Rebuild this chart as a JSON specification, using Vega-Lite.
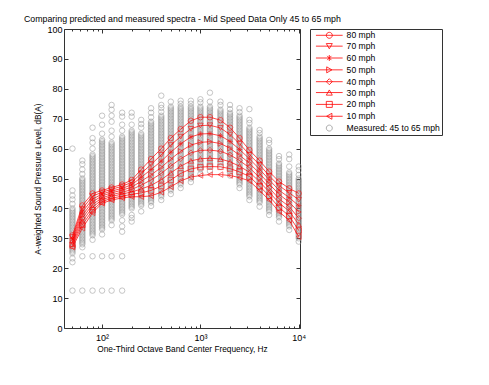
{
"$schema":"https://vega.github.io/schema/vega-lite/v6.json",
"width":236,"height":299,
"autosize":{"type":"none"},
"padding":{"left":64,"top":29,"right":189,"bottom":57},
"background":"white",
"title":{"text":"Comparing predicted and measured spectra - Mid Speed Data Only 45 to 65 mph","anchor":"start","frame":"group","dx":-40,"dy":13,"offset":7,"fontSize":8.8,"fontWeight":"normal","font":"Liberation Sans","color":"black","baseline":"alphabetic"},
"config":{"font":"Liberation Sans","view":{"stroke":"#333","strokeWidth":1},
"axis":{"grid":false,"domain":false,"tickColor":"#333","labelColor":"black","labelFontSize":9,"titleFontSize":8.3,"titleFontWeight":"normal","titleColor":"black","labelFont":"Liberation Sans","titleFont":"Liberation Sans"}},
"datasets":{
"measured":[
{"f":50,"db":12.5},{"f":50,"db":22},{"f":50,"db":23.3},{"f":50,"db":25},{"f":50,"db":25.5},{"f":50,"db":26},{"f":50,"db":26.5},{"f":50,"db":27},{"f":50,"db":27.5},{"f":50,"db":28},{"f":50,"db":28.5},{"f":50,"db":29},{"f":50,"db":29.5},{"f":50,"db":30},{"f":50,"db":30.5},{"f":50,"db":31},{"f":50,"db":31.5},{"f":50,"db":32},{"f":50,"db":32.5},{"f":50,"db":33},{"f":50,"db":33.5},{"f":50,"db":34},{"f":50,"db":34.5},{"f":50,"db":35},{"f":50,"db":35.5},{"f":50,"db":36},{"f":50,"db":36.5},{"f":50,"db":37},{"f":50,"db":37.5},{"f":50,"db":38},{"f":50,"db":38.5},{"f":50,"db":39},{"f":50,"db":39.5},{"f":50,"db":40},{"f":50,"db":41.5},{"f":50,"db":43},{"f":50,"db":44.3},{"f":50,"db":46},{"f":50,"db":60},
{"f":63,"db":12.5},{"f":63,"db":24},{"f":63,"db":27},{"f":63,"db":28},{"f":63,"db":28.5},{"f":63,"db":29},{"f":63,"db":29.5},{"f":63,"db":30},{"f":63,"db":30.5},{"f":63,"db":31},{"f":63,"db":31.5},{"f":63,"db":32},{"f":63,"db":32.5},{"f":63,"db":33},{"f":63,"db":33.5},{"f":63,"db":34},{"f":63,"db":34.5},{"f":63,"db":35},{"f":63,"db":35.5},{"f":63,"db":36},{"f":63,"db":36.5},{"f":63,"db":37},{"f":63,"db":37.5},{"f":63,"db":38},{"f":63,"db":38.5},{"f":63,"db":39},{"f":63,"db":39.5},{"f":63,"db":40},{"f":63,"db":40.5},{"f":63,"db":41},{"f":63,"db":41.5},{"f":63,"db":42},{"f":63,"db":42.5},{"f":63,"db":43},{"f":63,"db":43.5},{"f":63,"db":44},{"f":63,"db":44.5},{"f":63,"db":45},{"f":63,"db":45.5},{"f":63,"db":46},{"f":63,"db":46.5},{"f":63,"db":47},{"f":63,"db":47.5},{"f":63,"db":48},{"f":63,"db":48.5},{"f":63,"db":49},{"f":63,"db":49.5},{"f":63,"db":50},{"f":63,"db":51.5},{"f":63,"db":53},{"f":63,"db":54.8},{"f":63,"db":56},
{"f":80,"db":12.5},{"f":80,"db":24},{"f":80,"db":29.5},{"f":80,"db":31},{"f":80,"db":31.5},{"f":80,"db":32},{"f":80,"db":32.5},{"f":80,"db":33},{"f":80,"db":33.5},{"f":80,"db":34},{"f":80,"db":34.5},{"f":80,"db":35},{"f":80,"db":35.5},{"f":80,"db":36},{"f":80,"db":36.5},{"f":80,"db":37},{"f":80,"db":37.5},{"f":80,"db":38},{"f":80,"db":38.5},{"f":80,"db":39},{"f":80,"db":39.5},{"f":80,"db":40},{"f":80,"db":40.5},{"f":80,"db":41},{"f":80,"db":41.5},{"f":80,"db":42},{"f":80,"db":42.5},{"f":80,"db":43},{"f":80,"db":43.5},{"f":80,"db":44},{"f":80,"db":44.5},{"f":80,"db":45},{"f":80,"db":45.5},{"f":80,"db":46},{"f":80,"db":46.5},{"f":80,"db":47},{"f":80,"db":47.5},{"f":80,"db":48},{"f":80,"db":48.5},{"f":80,"db":49},{"f":80,"db":49.5},{"f":80,"db":50},{"f":80,"db":50.5},{"f":80,"db":51},{"f":80,"db":51.5},{"f":80,"db":52},{"f":80,"db":52.5},{"f":80,"db":53},{"f":80,"db":53.5},{"f":80,"db":54},{"f":80,"db":54.5},{"f":80,"db":55},{"f":80,"db":55.5},{"f":80,"db":56},{"f":80,"db":56.5},{"f":80,"db":57},{"f":80,"db":57.5},{"f":80,"db":58},{"f":80,"db":60},{"f":80,"db":62},{"f":80,"db":63.5},{"f":80,"db":67},
{"f":100,"db":12.5},{"f":100,"db":24},{"f":100,"db":31.3},{"f":100,"db":33},{"f":100,"db":33.5},{"f":100,"db":34},{"f":100,"db":34.5},{"f":100,"db":35},{"f":100,"db":35.5},{"f":100,"db":36},{"f":100,"db":36.5},{"f":100,"db":37},{"f":100,"db":37.5},{"f":100,"db":38},{"f":100,"db":38.5},{"f":100,"db":39},{"f":100,"db":39.5},{"f":100,"db":40},{"f":100,"db":40.5},{"f":100,"db":41},{"f":100,"db":41.5},{"f":100,"db":42},{"f":100,"db":42.5},{"f":100,"db":43},{"f":100,"db":43.5},{"f":100,"db":44},{"f":100,"db":44.5},{"f":100,"db":45},{"f":100,"db":45.5},{"f":100,"db":46},{"f":100,"db":46.5},{"f":100,"db":47},{"f":100,"db":47.5},{"f":100,"db":48},{"f":100,"db":48.5},{"f":100,"db":49},{"f":100,"db":49.5},{"f":100,"db":50},{"f":100,"db":50.5},{"f":100,"db":51},{"f":100,"db":51.5},{"f":100,"db":52},{"f":100,"db":52.5},{"f":100,"db":53},{"f":100,"db":53.5},{"f":100,"db":54},{"f":100,"db":54.5},{"f":100,"db":55},{"f":100,"db":55.5},{"f":100,"db":56},{"f":100,"db":56.5},{"f":100,"db":57},{"f":100,"db":57.5},{"f":100,"db":58},{"f":100,"db":58.5},{"f":100,"db":59},{"f":100,"db":59.5},{"f":100,"db":60},{"f":100,"db":60.5},{"f":100,"db":61},{"f":100,"db":61.5},{"f":100,"db":62},{"f":100,"db":62.5},{"f":100,"db":63},{"f":100,"db":65},{"f":100,"db":68},{"f":100,"db":71},
{"f":125,"db":12.5},{"f":125,"db":24},{"f":125,"db":34.4},{"f":125,"db":36},{"f":125,"db":36.5},{"f":125,"db":37},{"f":125,"db":37.5},{"f":125,"db":38},{"f":125,"db":38.5},{"f":125,"db":39},{"f":125,"db":39.5},{"f":125,"db":40},{"f":125,"db":40.5},{"f":125,"db":41},{"f":125,"db":41.5},{"f":125,"db":42},{"f":125,"db":42.5},{"f":125,"db":43},{"f":125,"db":43.5},{"f":125,"db":44},{"f":125,"db":44.5},{"f":125,"db":45},{"f":125,"db":45.5},{"f":125,"db":46},{"f":125,"db":46.5},{"f":125,"db":47},{"f":125,"db":47.5},{"f":125,"db":48},{"f":125,"db":48.5},{"f":125,"db":49},{"f":125,"db":49.5},{"f":125,"db":50},{"f":125,"db":50.5},{"f":125,"db":51},{"f":125,"db":51.5},{"f":125,"db":52},{"f":125,"db":52.5},{"f":125,"db":53},{"f":125,"db":53.5},{"f":125,"db":54},{"f":125,"db":54.5},{"f":125,"db":55},{"f":125,"db":55.5},{"f":125,"db":56},{"f":125,"db":56.5},{"f":125,"db":57},{"f":125,"db":57.5},{"f":125,"db":58},{"f":125,"db":58.5},{"f":125,"db":59},{"f":125,"db":59.5},{"f":125,"db":60},{"f":125,"db":60.5},{"f":125,"db":61},{"f":125,"db":61.5},{"f":125,"db":62},{"f":125,"db":64},{"f":125,"db":66},{"f":125,"db":69},{"f":125,"db":71},{"f":125,"db":73},{"f":125,"db":74.6},
{"f":160,"db":12.5},{"f":160,"db":24},{"f":160,"db":32.2},{"f":160,"db":34},{"f":160,"db":36},{"f":160,"db":38},{"f":160,"db":38.5},{"f":160,"db":39},{"f":160,"db":39.5},{"f":160,"db":40},{"f":160,"db":40.5},{"f":160,"db":41},{"f":160,"db":41.5},{"f":160,"db":42},{"f":160,"db":42.5},{"f":160,"db":43},{"f":160,"db":43.5},{"f":160,"db":44},{"f":160,"db":44.5},{"f":160,"db":45},{"f":160,"db":45.5},{"f":160,"db":46},{"f":160,"db":46.5},{"f":160,"db":47},{"f":160,"db":47.5},{"f":160,"db":48},{"f":160,"db":48.5},{"f":160,"db":49},{"f":160,"db":49.5},{"f":160,"db":50},{"f":160,"db":50.5},{"f":160,"db":51},{"f":160,"db":51.5},{"f":160,"db":52},{"f":160,"db":52.5},{"f":160,"db":53},{"f":160,"db":53.5},{"f":160,"db":54},{"f":160,"db":54.5},{"f":160,"db":55},{"f":160,"db":55.5},{"f":160,"db":56},{"f":160,"db":56.5},{"f":160,"db":57},{"f":160,"db":57.5},{"f":160,"db":58},{"f":160,"db":58.5},{"f":160,"db":59},{"f":160,"db":59.5},{"f":160,"db":60},{"f":160,"db":60.5},{"f":160,"db":61},{"f":160,"db":61.5},{"f":160,"db":62},{"f":160,"db":62.5},{"f":160,"db":63},{"f":160,"db":63.5},{"f":160,"db":64},{"f":160,"db":66},{"f":160,"db":68},{"f":160,"db":70.7},{"f":160,"db":72},
{"f":200,"db":35.6},{"f":200,"db":36.8},{"f":200,"db":37.8},{"f":200,"db":40},{"f":200,"db":40.5},{"f":200,"db":41},{"f":200,"db":41.5},{"f":200,"db":42},{"f":200,"db":42.5},{"f":200,"db":43},{"f":200,"db":43.5},{"f":200,"db":44},{"f":200,"db":44.5},{"f":200,"db":45},{"f":200,"db":45.5},{"f":200,"db":46},{"f":200,"db":46.5},{"f":200,"db":47},{"f":200,"db":47.5},{"f":200,"db":48},{"f":200,"db":48.5},{"f":200,"db":49},{"f":200,"db":49.5},{"f":200,"db":50},{"f":200,"db":50.5},{"f":200,"db":51},{"f":200,"db":51.5},{"f":200,"db":52},{"f":200,"db":52.5},{"f":200,"db":53},{"f":200,"db":53.5},{"f":200,"db":54},{"f":200,"db":54.5},{"f":200,"db":55},{"f":200,"db":55.5},{"f":200,"db":56},{"f":200,"db":56.5},{"f":200,"db":57},{"f":200,"db":57.5},{"f":200,"db":58},{"f":200,"db":58.5},{"f":200,"db":59},{"f":200,"db":59.5},{"f":200,"db":60},{"f":200,"db":60.5},{"f":200,"db":61},{"f":200,"db":61.5},{"f":200,"db":62},{"f":200,"db":62.5},{"f":200,"db":63},{"f":200,"db":63.5},{"f":200,"db":64},{"f":200,"db":64.5},{"f":200,"db":65},{"f":200,"db":65.5},{"f":200,"db":66},{"f":200,"db":68},{"f":200,"db":70.7},{"f":200,"db":72},
{"f":250,"db":39},{"f":250,"db":41},{"f":250,"db":41.5},{"f":250,"db":42},{"f":250,"db":42.5},{"f":250,"db":43},{"f":250,"db":43.5},{"f":250,"db":44},{"f":250,"db":44.5},{"f":250,"db":45},{"f":250,"db":45.5},{"f":250,"db":46},{"f":250,"db":46.5},{"f":250,"db":47},{"f":250,"db":47.5},{"f":250,"db":48},{"f":250,"db":48.5},{"f":250,"db":49},{"f":250,"db":49.5},{"f":250,"db":50},{"f":250,"db":50.5},{"f":250,"db":51},{"f":250,"db":51.5},{"f":250,"db":52},{"f":250,"db":52.5},{"f":250,"db":53},{"f":250,"db":53.5},{"f":250,"db":54},{"f":250,"db":54.5},{"f":250,"db":55},{"f":250,"db":55.5},{"f":250,"db":56},{"f":250,"db":56.5},{"f":250,"db":57},{"f":250,"db":57.5},{"f":250,"db":58},{"f":250,"db":58.5},{"f":250,"db":59},{"f":250,"db":59.5},{"f":250,"db":60},{"f":250,"db":60.5},{"f":250,"db":61},{"f":250,"db":61.5},{"f":250,"db":62},{"f":250,"db":62.5},{"f":250,"db":63},{"f":250,"db":63.5},{"f":250,"db":64},{"f":250,"db":64.5},{"f":250,"db":65},{"f":250,"db":67},{"f":250,"db":68.2},{"f":250,"db":69.6},
{"f":315,"db":40.8},{"f":315,"db":42},{"f":315,"db":42.5},{"f":315,"db":43},{"f":315,"db":43.5},{"f":315,"db":44},{"f":315,"db":44.5},{"f":315,"db":45},{"f":315,"db":45.5},{"f":315,"db":46},{"f":315,"db":46.5},{"f":315,"db":47},{"f":315,"db":47.5},{"f":315,"db":48},{"f":315,"db":48.5},{"f":315,"db":49},{"f":315,"db":49.5},{"f":315,"db":50},{"f":315,"db":50.5},{"f":315,"db":51},{"f":315,"db":51.5},{"f":315,"db":52},{"f":315,"db":52.5},{"f":315,"db":53},{"f":315,"db":53.5},{"f":315,"db":54},{"f":315,"db":54.5},{"f":315,"db":55},{"f":315,"db":55.5},{"f":315,"db":56},{"f":315,"db":56.5},{"f":315,"db":57},{"f":315,"db":57.5},{"f":315,"db":58},{"f":315,"db":58.5},{"f":315,"db":59},{"f":315,"db":59.5},{"f":315,"db":60},{"f":315,"db":60.5},{"f":315,"db":61},{"f":315,"db":61.5},{"f":315,"db":62},{"f":315,"db":62.5},{"f":315,"db":63},{"f":315,"db":63.5},{"f":315,"db":64},{"f":315,"db":64.5},{"f":315,"db":65},{"f":315,"db":65.5},{"f":315,"db":66},{"f":315,"db":66.5},{"f":315,"db":67},{"f":315,"db":67.5},{"f":315,"db":68},{"f":315,"db":68.5},{"f":315,"db":69},{"f":315,"db":70.5},{"f":315,"db":72},{"f":315,"db":73.5},
{"f":400,"db":42.8},{"f":400,"db":44},{"f":400,"db":44.5},{"f":400,"db":45},{"f":400,"db":45.5},{"f":400,"db":46},{"f":400,"db":46.5},{"f":400,"db":47},{"f":400,"db":47.5},{"f":400,"db":48},{"f":400,"db":48.5},{"f":400,"db":49},{"f":400,"db":49.5},{"f":400,"db":50},{"f":400,"db":50.5},{"f":400,"db":51},{"f":400,"db":51.5},{"f":400,"db":52},{"f":400,"db":52.5},{"f":400,"db":53},{"f":400,"db":53.5},{"f":400,"db":54},{"f":400,"db":54.5},{"f":400,"db":55},{"f":400,"db":55.5},{"f":400,"db":56},{"f":400,"db":56.5},{"f":400,"db":57},{"f":400,"db":57.5},{"f":400,"db":58},{"f":400,"db":58.5},{"f":400,"db":59},{"f":400,"db":59.5},{"f":400,"db":60},{"f":400,"db":60.5},{"f":400,"db":61},{"f":400,"db":61.5},{"f":400,"db":62},{"f":400,"db":62.5},{"f":400,"db":63},{"f":400,"db":63.5},{"f":400,"db":64},{"f":400,"db":64.5},{"f":400,"db":65},{"f":400,"db":65.5},{"f":400,"db":66},{"f":400,"db":66.5},{"f":400,"db":67},{"f":400,"db":67.5},{"f":400,"db":68},{"f":400,"db":68.5},{"f":400,"db":69},{"f":400,"db":69.5},{"f":400,"db":70},{"f":400,"db":70.5},{"f":400,"db":71},{"f":400,"db":72.3},{"f":400,"db":73.6},{"f":400,"db":74.6},{"f":400,"db":77.7},
{"f":500,"db":44.8},{"f":500,"db":46},{"f":500,"db":46.5},{"f":500,"db":47},{"f":500,"db":47.5},{"f":500,"db":48},{"f":500,"db":48.5},{"f":500,"db":49},{"f":500,"db":49.5},{"f":500,"db":50},{"f":500,"db":50.5},{"f":500,"db":51},{"f":500,"db":51.5},{"f":500,"db":52},{"f":500,"db":52.5},{"f":500,"db":53},{"f":500,"db":53.5},{"f":500,"db":54},{"f":500,"db":54.5},{"f":500,"db":55},{"f":500,"db":55.5},{"f":500,"db":56},{"f":500,"db":56.5},{"f":500,"db":57},{"f":500,"db":57.5},{"f":500,"db":58},{"f":500,"db":58.5},{"f":500,"db":59},{"f":500,"db":59.5},{"f":500,"db":60},{"f":500,"db":60.5},{"f":500,"db":61},{"f":500,"db":61.5},{"f":500,"db":62},{"f":500,"db":62.5},{"f":500,"db":63},{"f":500,"db":63.5},{"f":500,"db":64},{"f":500,"db":64.5},{"f":500,"db":65},{"f":500,"db":65.5},{"f":500,"db":66},{"f":500,"db":66.5},{"f":500,"db":67},{"f":500,"db":67.5},{"f":500,"db":68},{"f":500,"db":68.5},{"f":500,"db":69},{"f":500,"db":69.5},{"f":500,"db":70},{"f":500,"db":70.5},{"f":500,"db":71},{"f":500,"db":71.5},{"f":500,"db":72},{"f":500,"db":72.5},{"f":500,"db":73},{"f":500,"db":73.5},{"f":500,"db":74},{"f":500,"db":75.7},
{"f":630,"db":46.8},{"f":630,"db":48},{"f":630,"db":48.5},{"f":630,"db":49},{"f":630,"db":49.5},{"f":630,"db":50},{"f":630,"db":50.5},{"f":630,"db":51},{"f":630,"db":51.5},{"f":630,"db":52},{"f":630,"db":52.5},{"f":630,"db":53},{"f":630,"db":53.5},{"f":630,"db":54},{"f":630,"db":54.5},{"f":630,"db":55},{"f":630,"db":55.5},{"f":630,"db":56},{"f":630,"db":56.5},{"f":630,"db":57},{"f":630,"db":57.5},{"f":630,"db":58},{"f":630,"db":58.5},{"f":630,"db":59},{"f":630,"db":59.5},{"f":630,"db":60},{"f":630,"db":60.5},{"f":630,"db":61},{"f":630,"db":61.5},{"f":630,"db":62},{"f":630,"db":62.5},{"f":630,"db":63},{"f":630,"db":63.5},{"f":630,"db":64},{"f":630,"db":64.5},{"f":630,"db":65},{"f":630,"db":65.5},{"f":630,"db":66},{"f":630,"db":66.5},{"f":630,"db":67},{"f":630,"db":67.5},{"f":630,"db":68},{"f":630,"db":68.5},{"f":630,"db":69},{"f":630,"db":69.5},{"f":630,"db":70},{"f":630,"db":70.5},{"f":630,"db":71},{"f":630,"db":71.5},{"f":630,"db":72},{"f":630,"db":72.5},{"f":630,"db":73},{"f":630,"db":73.5},{"f":630,"db":74},{"f":630,"db":75},{"f":630,"db":76},
{"f":800,"db":48.8},{"f":800,"db":50},{"f":800,"db":50.5},{"f":800,"db":51},{"f":800,"db":51.5},{"f":800,"db":52},{"f":800,"db":52.5},{"f":800,"db":53},{"f":800,"db":53.5},{"f":800,"db":54},{"f":800,"db":54.5},{"f":800,"db":55},{"f":800,"db":55.5},{"f":800,"db":56},{"f":800,"db":56.5},{"f":800,"db":57},{"f":800,"db":57.5},{"f":800,"db":58},{"f":800,"db":58.5},{"f":800,"db":59},{"f":800,"db":59.5},{"f":800,"db":60},{"f":800,"db":60.5},{"f":800,"db":61},{"f":800,"db":61.5},{"f":800,"db":62},{"f":800,"db":62.5},{"f":800,"db":63},{"f":800,"db":63.5},{"f":800,"db":64},{"f":800,"db":64.5},{"f":800,"db":65},{"f":800,"db":65.5},{"f":800,"db":66},{"f":800,"db":66.5},{"f":800,"db":67},{"f":800,"db":67.5},{"f":800,"db":68},{"f":800,"db":68.5},{"f":800,"db":69},{"f":800,"db":69.5},{"f":800,"db":70},{"f":800,"db":70.5},{"f":800,"db":71},{"f":800,"db":71.5},{"f":800,"db":72},{"f":800,"db":72.5},{"f":800,"db":73},{"f":800,"db":73.5},{"f":800,"db":74},{"f":800,"db":75},{"f":800,"db":76},
{"f":1000,"db":51.5},{"f":1000,"db":53},{"f":1000,"db":53.5},{"f":1000,"db":54},{"f":1000,"db":54.5},{"f":1000,"db":55},{"f":1000,"db":55.5},{"f":1000,"db":56},{"f":1000,"db":56.5},{"f":1000,"db":57},{"f":1000,"db":57.5},{"f":1000,"db":58},{"f":1000,"db":58.5},{"f":1000,"db":59},{"f":1000,"db":59.5},{"f":1000,"db":60},{"f":1000,"db":60.5},{"f":1000,"db":61},{"f":1000,"db":61.5},{"f":1000,"db":62},{"f":1000,"db":62.5},{"f":1000,"db":63},{"f":1000,"db":63.5},{"f":1000,"db":64},{"f":1000,"db":64.5},{"f":1000,"db":65},{"f":1000,"db":65.5},{"f":1000,"db":66},{"f":1000,"db":66.5},{"f":1000,"db":67},{"f":1000,"db":67.5},{"f":1000,"db":68},{"f":1000,"db":68.5},{"f":1000,"db":69},{"f":1000,"db":69.5},{"f":1000,"db":70},{"f":1000,"db":70.5},{"f":1000,"db":71},{"f":1000,"db":71.5},{"f":1000,"db":72},{"f":1000,"db":72.5},{"f":1000,"db":73},{"f":1000,"db":73.5},{"f":1000,"db":74},{"f":1000,"db":75.5},{"f":1000,"db":76.5},
{"f":1250,"db":52.5},{"f":1250,"db":54},{"f":1250,"db":54.5},{"f":1250,"db":55},{"f":1250,"db":55.5},{"f":1250,"db":56},{"f":1250,"db":56.5},{"f":1250,"db":57},{"f":1250,"db":57.5},{"f":1250,"db":58},{"f":1250,"db":58.5},{"f":1250,"db":59},{"f":1250,"db":59.5},{"f":1250,"db":60},{"f":1250,"db":60.5},{"f":1250,"db":61},{"f":1250,"db":61.5},{"f":1250,"db":62},{"f":1250,"db":62.5},{"f":1250,"db":63},{"f":1250,"db":63.5},{"f":1250,"db":64},{"f":1250,"db":64.5},{"f":1250,"db":65},{"f":1250,"db":65.5},{"f":1250,"db":66},{"f":1250,"db":66.5},{"f":1250,"db":67},{"f":1250,"db":67.5},{"f":1250,"db":68},{"f":1250,"db":68.5},{"f":1250,"db":69},{"f":1250,"db":69.5},{"f":1250,"db":70},{"f":1250,"db":70.5},{"f":1250,"db":71},{"f":1250,"db":71.5},{"f":1250,"db":72},{"f":1250,"db":72.5},{"f":1250,"db":73},{"f":1250,"db":73.5},{"f":1250,"db":74},{"f":1250,"db":75.7},{"f":1250,"db":78.7},
{"f":1600,"db":54},{"f":1600,"db":55},{"f":1600,"db":55.5},{"f":1600,"db":56},{"f":1600,"db":56.5},{"f":1600,"db":57},{"f":1600,"db":57.5},{"f":1600,"db":58},{"f":1600,"db":58.5},{"f":1600,"db":59},{"f":1600,"db":59.5},{"f":1600,"db":60},{"f":1600,"db":60.5},{"f":1600,"db":61},{"f":1600,"db":61.5},{"f":1600,"db":62},{"f":1600,"db":62.5},{"f":1600,"db":63},{"f":1600,"db":63.5},{"f":1600,"db":64},{"f":1600,"db":64.5},{"f":1600,"db":65},{"f":1600,"db":65.5},{"f":1600,"db":66},{"f":1600,"db":66.5},{"f":1600,"db":67},{"f":1600,"db":67.5},{"f":1600,"db":68},{"f":1600,"db":68.5},{"f":1600,"db":69},{"f":1600,"db":69.5},{"f":1600,"db":70},{"f":1600,"db":70.5},{"f":1600,"db":71},{"f":1600,"db":71.5},{"f":1600,"db":72},{"f":1600,"db":72.5},{"f":1600,"db":73},{"f":1600,"db":74.6},{"f":1600,"db":75.7},
{"f":2000,"db":51},{"f":2000,"db":52},{"f":2000,"db":52.5},{"f":2000,"db":53},{"f":2000,"db":53.5},{"f":2000,"db":54},{"f":2000,"db":54.5},{"f":2000,"db":55},{"f":2000,"db":55.5},{"f":2000,"db":56},{"f":2000,"db":56.5},{"f":2000,"db":57},{"f":2000,"db":57.5},{"f":2000,"db":58},{"f":2000,"db":58.5},{"f":2000,"db":59},{"f":2000,"db":59.5},{"f":2000,"db":60},{"f":2000,"db":60.5},{"f":2000,"db":61},{"f":2000,"db":61.5},{"f":2000,"db":62},{"f":2000,"db":62.5},{"f":2000,"db":63},{"f":2000,"db":63.5},{"f":2000,"db":64},{"f":2000,"db":64.5},{"f":2000,"db":65},{"f":2000,"db":65.5},{"f":2000,"db":66},{"f":2000,"db":66.5},{"f":2000,"db":67},{"f":2000,"db":67.5},{"f":2000,"db":68},{"f":2000,"db":68.5},{"f":2000,"db":69},{"f":2000,"db":69.5},{"f":2000,"db":70},{"f":2000,"db":70.5},{"f":2000,"db":71},{"f":2000,"db":71.5},{"f":2000,"db":72},{"f":2000,"db":73.2},{"f":2000,"db":74.6},
{"f":2500,"db":46.8},{"f":2500,"db":48},{"f":2500,"db":48.5},{"f":2500,"db":49},{"f":2500,"db":49.5},{"f":2500,"db":50},{"f":2500,"db":50.5},{"f":2500,"db":51},{"f":2500,"db":51.5},{"f":2500,"db":52},{"f":2500,"db":52.5},{"f":2500,"db":53},{"f":2500,"db":53.5},{"f":2500,"db":54},{"f":2500,"db":54.5},{"f":2500,"db":55},{"f":2500,"db":55.5},{"f":2500,"db":56},{"f":2500,"db":56.5},{"f":2500,"db":57},{"f":2500,"db":57.5},{"f":2500,"db":58},{"f":2500,"db":58.5},{"f":2500,"db":59},{"f":2500,"db":59.5},{"f":2500,"db":60},{"f":2500,"db":60.5},{"f":2500,"db":61},{"f":2500,"db":61.5},{"f":2500,"db":62},{"f":2500,"db":62.5},{"f":2500,"db":63},{"f":2500,"db":63.5},{"f":2500,"db":64},{"f":2500,"db":64.5},{"f":2500,"db":65},{"f":2500,"db":65.5},{"f":2500,"db":66},{"f":2500,"db":66.5},{"f":2500,"db":67},{"f":2500,"db":67.5},{"f":2500,"db":68},{"f":2500,"db":68.5},{"f":2500,"db":69},{"f":2500,"db":69.5},{"f":2500,"db":70},{"f":2500,"db":70.5},{"f":2500,"db":71},{"f":2500,"db":72.2},{"f":2500,"db":73.5},
{"f":3150,"db":42.8},{"f":3150,"db":44},{"f":3150,"db":44.5},{"f":3150,"db":45},{"f":3150,"db":45.5},{"f":3150,"db":46},{"f":3150,"db":46.5},{"f":3150,"db":47},{"f":3150,"db":47.5},{"f":3150,"db":48},{"f":3150,"db":48.5},{"f":3150,"db":49},{"f":3150,"db":49.5},{"f":3150,"db":50},{"f":3150,"db":50.5},{"f":3150,"db":51},{"f":3150,"db":51.5},{"f":3150,"db":52},{"f":3150,"db":52.5},{"f":3150,"db":53},{"f":3150,"db":53.5},{"f":3150,"db":54},{"f":3150,"db":54.5},{"f":3150,"db":55},{"f":3150,"db":55.5},{"f":3150,"db":56},{"f":3150,"db":56.5},{"f":3150,"db":57},{"f":3150,"db":57.5},{"f":3150,"db":58},{"f":3150,"db":58.5},{"f":3150,"db":59},{"f":3150,"db":59.5},{"f":3150,"db":60},{"f":3150,"db":60.5},{"f":3150,"db":61},{"f":3150,"db":61.5},{"f":3150,"db":62},{"f":3150,"db":62.5},{"f":3150,"db":63},{"f":3150,"db":63.5},{"f":3150,"db":64},{"f":3150,"db":64.5},{"f":3150,"db":65},{"f":3150,"db":65.5},{"f":3150,"db":66},{"f":3150,"db":66.5},{"f":3150,"db":67},{"f":3150,"db":68.6},{"f":3150,"db":69.6},{"f":3150,"db":73.2},
{"f":4000,"db":40.6},{"f":4000,"db":42},{"f":4000,"db":42.5},{"f":4000,"db":43},{"f":4000,"db":43.5},{"f":4000,"db":44},{"f":4000,"db":44.5},{"f":4000,"db":45},{"f":4000,"db":45.5},{"f":4000,"db":46},{"f":4000,"db":46.5},{"f":4000,"db":47},{"f":4000,"db":47.5},{"f":4000,"db":48},{"f":4000,"db":48.5},{"f":4000,"db":49},{"f":4000,"db":49.5},{"f":4000,"db":50},{"f":4000,"db":50.5},{"f":4000,"db":51},{"f":4000,"db":51.5},{"f":4000,"db":52},{"f":4000,"db":52.5},{"f":4000,"db":53},{"f":4000,"db":53.5},{"f":4000,"db":54},{"f":4000,"db":54.5},{"f":4000,"db":55},{"f":4000,"db":55.5},{"f":4000,"db":56},{"f":4000,"db":56.5},{"f":4000,"db":57},{"f":4000,"db":57.5},{"f":4000,"db":58},{"f":4000,"db":58.5},{"f":4000,"db":59},{"f":4000,"db":59.5},{"f":4000,"db":60},{"f":4000,"db":60.5},{"f":4000,"db":61},{"f":4000,"db":61.5},{"f":4000,"db":62},{"f":4000,"db":62.5},{"f":4000,"db":63},{"f":4000,"db":63.5},{"f":4000,"db":64},{"f":4000,"db":65.2},{"f":4000,"db":66.2},
{"f":5000,"db":37.8},{"f":5000,"db":39},{"f":5000,"db":39.5},{"f":5000,"db":40},{"f":5000,"db":40.5},{"f":5000,"db":41},{"f":5000,"db":41.5},{"f":5000,"db":42},{"f":5000,"db":42.5},{"f":5000,"db":43},{"f":5000,"db":43.5},{"f":5000,"db":44},{"f":5000,"db":44.5},{"f":5000,"db":45},{"f":5000,"db":45.5},{"f":5000,"db":46},{"f":5000,"db":46.5},{"f":5000,"db":47},{"f":5000,"db":47.5},{"f":5000,"db":48},{"f":5000,"db":48.5},{"f":5000,"db":49},{"f":5000,"db":49.5},{"f":5000,"db":50},{"f":5000,"db":50.5},{"f":5000,"db":51},{"f":5000,"db":51.5},{"f":5000,"db":52},{"f":5000,"db":52.5},{"f":5000,"db":53},{"f":5000,"db":53.5},{"f":5000,"db":54},{"f":5000,"db":54.5},{"f":5000,"db":55},{"f":5000,"db":55.5},{"f":5000,"db":56},{"f":5000,"db":56.5},{"f":5000,"db":57},{"f":5000,"db":57.5},{"f":5000,"db":58},{"f":5000,"db":58.5},{"f":5000,"db":59},{"f":5000,"db":59.5},{"f":5000,"db":60},{"f":5000,"db":61.9},{"f":5000,"db":62.9},
{"f":6300,"db":35.6},{"f":6300,"db":37},{"f":6300,"db":37.5},{"f":6300,"db":38},{"f":6300,"db":38.5},{"f":6300,"db":39},{"f":6300,"db":39.5},{"f":6300,"db":40},{"f":6300,"db":40.5},{"f":6300,"db":41},{"f":6300,"db":41.5},{"f":6300,"db":42},{"f":6300,"db":42.5},{"f":6300,"db":43},{"f":6300,"db":43.5},{"f":6300,"db":44},{"f":6300,"db":44.5},{"f":6300,"db":45},{"f":6300,"db":45.5},{"f":6300,"db":46},{"f":6300,"db":46.5},{"f":6300,"db":47},{"f":6300,"db":47.5},{"f":6300,"db":48},{"f":6300,"db":48.5},{"f":6300,"db":49},{"f":6300,"db":49.5},{"f":6300,"db":50},{"f":6300,"db":50.5},{"f":6300,"db":51},{"f":6300,"db":51.5},{"f":6300,"db":52},{"f":6300,"db":52.5},{"f":6300,"db":53},{"f":6300,"db":53.5},{"f":6300,"db":54},{"f":6300,"db":54.5},{"f":6300,"db":55},{"f":6300,"db":56.5},{"f":6300,"db":57.5},
{"f":8000,"db":32.8},{"f":8000,"db":34},{"f":8000,"db":34.5},{"f":8000,"db":35},{"f":8000,"db":35.5},{"f":8000,"db":36},{"f":8000,"db":36.5},{"f":8000,"db":37},{"f":8000,"db":37.5},{"f":8000,"db":38},{"f":8000,"db":38.5},{"f":8000,"db":39},{"f":8000,"db":39.5},{"f":8000,"db":40},{"f":8000,"db":40.5},{"f":8000,"db":41},{"f":8000,"db":41.5},{"f":8000,"db":42},{"f":8000,"db":42.5},{"f":8000,"db":43},{"f":8000,"db":43.5},{"f":8000,"db":44},{"f":8000,"db":44.5},{"f":8000,"db":45},{"f":8000,"db":45.5},{"f":8000,"db":46},{"f":8000,"db":46.5},{"f":8000,"db":47},{"f":8000,"db":47.5},{"f":8000,"db":48},{"f":8000,"db":48.5},{"f":8000,"db":49},{"f":8000,"db":49.5},{"f":8000,"db":50},{"f":8000,"db":50.5},{"f":8000,"db":51},{"f":8000,"db":51.5},{"f":8000,"db":52},{"f":8000,"db":54},{"f":8000,"db":56.5},{"f":8000,"db":58},
{"f":10000,"db":28.9},{"f":10000,"db":30},{"f":10000,"db":30.5},{"f":10000,"db":31},{"f":10000,"db":31.5},{"f":10000,"db":32},{"f":10000,"db":32.5},{"f":10000,"db":33},{"f":10000,"db":33.5},{"f":10000,"db":34},{"f":10000,"db":34.5},{"f":10000,"db":35},{"f":10000,"db":35.5},{"f":10000,"db":36},{"f":10000,"db":36.5},{"f":10000,"db":37},{"f":10000,"db":37.5},{"f":10000,"db":38},{"f":10000,"db":38.5},{"f":10000,"db":39},{"f":10000,"db":39.5},{"f":10000,"db":40},{"f":10000,"db":40.5},{"f":10000,"db":41},{"f":10000,"db":41.5},{"f":10000,"db":42},{"f":10000,"db":42.5},{"f":10000,"db":43},{"f":10000,"db":43.5},{"f":10000,"db":44},{"f":10000,"db":44.5},{"f":10000,"db":45},{"f":10000,"db":45.5},{"f":10000,"db":46},{"f":10000,"db":46.5},{"f":10000,"db":47},{"f":10000,"db":47.5},{"f":10000,"db":48},{"f":10000,"db":48.5},{"f":10000,"db":49},{"f":10000,"db":49.5},{"f":10000,"db":50},{"f":10000,"db":51.2},{"f":10000,"db":52.8},{"f":10000,"db":54}
],
"predicted":[
{"s":"80 mph","f":50,"db":31},{"s":"80 mph","f":63,"db":41},{"s":"80 mph","f":80,"db":45},{"s":"80 mph","f":100,"db":46},{"s":"80 mph","f":125,"db":47},{"s":"80 mph","f":160,"db":48},{"s":"80 mph","f":200,"db":49.5},{"s":"80 mph","f":250,"db":53},{"s":"80 mph","f":315,"db":56.5},{"s":"80 mph","f":400,"db":60},{"s":"80 mph","f":500,"db":63.5},{"s":"80 mph","f":630,"db":66.5},{"s":"80 mph","f":800,"db":69.3},{"s":"80 mph","f":1000,"db":70.5},{"s":"80 mph","f":1250,"db":70.5},{"s":"80 mph","f":1600,"db":69.5},{"s":"80 mph","f":2000,"db":67},{"s":"80 mph","f":2500,"db":63.5},{"s":"80 mph","f":3150,"db":59.5},{"s":"80 mph","f":4000,"db":56},{"s":"80 mph","f":5000,"db":52.3},{"s":"80 mph","f":6300,"db":49},{"s":"80 mph","f":8000,"db":46.7},{"s":"80 mph","f":10000,"db":45},
{"s":"70 mph","f":50,"db":30.4},{"s":"70 mph","f":63,"db":39.9},{"s":"70 mph","f":80,"db":44.1},{"s":"70 mph","f":100,"db":45.4},{"s":"70 mph","f":125,"db":46.4},{"s":"70 mph","f":160,"db":47.4},{"s":"70 mph","f":200,"db":48.7},{"s":"70 mph","f":250,"db":51.7},{"s":"70 mph","f":315,"db":54.7},{"s":"70 mph","f":400,"db":57.9},{"s":"70 mph","f":500,"db":61.2},{"s":"70 mph","f":630,"db":64},{"s":"70 mph","f":800,"db":66.6},{"s":"70 mph","f":1000,"db":67.7},{"s":"70 mph","f":1250,"db":67.8},{"s":"70 mph","f":1600,"db":66.9},{"s":"70 mph","f":2000,"db":64.7},{"s":"70 mph","f":2500,"db":61.6},{"s":"70 mph","f":3150,"db":58},{"s":"70 mph","f":4000,"db":54.6},{"s":"70 mph","f":5000,"db":50.9},{"s":"70 mph","f":6300,"db":47.6},{"s":"70 mph","f":8000,"db":45.2},{"s":"70 mph","f":10000,"db":42.9},
{"s":"60 mph","f":50,"db":29.9},{"s":"60 mph","f":63,"db":38.8},{"s":"60 mph","f":80,"db":43.1},{"s":"60 mph","f":100,"db":44.8},{"s":"60 mph","f":125,"db":45.8},{"s":"60 mph","f":160,"db":46.7},{"s":"60 mph","f":200,"db":47.9},{"s":"60 mph","f":250,"db":50.4},{"s":"60 mph","f":315,"db":53},{"s":"60 mph","f":400,"db":55.8},{"s":"60 mph","f":500,"db":58.8},{"s":"60 mph","f":630,"db":61.6},{"s":"60 mph","f":800,"db":63.9},{"s":"60 mph","f":1000,"db":64.9},{"s":"60 mph","f":1250,"db":65},{"s":"60 mph","f":1600,"db":64.3},{"s":"60 mph","f":2000,"db":62.4},{"s":"60 mph","f":2500,"db":59.7},{"s":"60 mph","f":3150,"db":56.6},{"s":"60 mph","f":4000,"db":53.1},{"s":"60 mph","f":5000,"db":49.6},{"s":"60 mph","f":6300,"db":46.1},{"s":"60 mph","f":8000,"db":43.6},{"s":"60 mph","f":10000,"db":40.9},
{"s":"50 mph","f":50,"db":29.3},{"s":"50 mph","f":63,"db":37.7},{"s":"50 mph","f":80,"db":42.2},{"s":"50 mph","f":100,"db":44.2},{"s":"50 mph","f":125,"db":45.2},{"s":"50 mph","f":160,"db":46.1},{"s":"50 mph","f":200,"db":47.1},{"s":"50 mph","f":250,"db":49.1},{"s":"50 mph","f":315,"db":51.2},{"s":"50 mph","f":400,"db":53.7},{"s":"50 mph","f":500,"db":56.5},{"s":"50 mph","f":630,"db":59.1},{"s":"50 mph","f":800,"db":61.2},{"s":"50 mph","f":1000,"db":62.1},{"s":"50 mph","f":1250,"db":62.3},{"s":"50 mph","f":1600,"db":61.7},{"s":"50 mph","f":2000,"db":60.1},{"s":"50 mph","f":2500,"db":57.8},{"s":"50 mph","f":3150,"db":55.1},{"s":"50 mph","f":4000,"db":51.7},{"s":"50 mph","f":5000,"db":48.2},{"s":"50 mph","f":6300,"db":44.7},{"s":"50 mph","f":8000,"db":42.1},{"s":"50 mph","f":10000,"db":38.8},
{"s":"40 mph","f":50,"db":28.7},{"s":"40 mph","f":63,"db":36.7},{"s":"40 mph","f":80,"db":41.3},{"s":"40 mph","f":100,"db":43.5},{"s":"40 mph","f":125,"db":44.6},{"s":"40 mph","f":160,"db":45.4},{"s":"40 mph","f":200,"db":46.3},{"s":"40 mph","f":250,"db":47.8},{"s":"40 mph","f":315,"db":49.5},{"s":"40 mph","f":400,"db":51.7},{"s":"40 mph","f":500,"db":54.2},{"s":"40 mph","f":630,"db":56.6},{"s":"40 mph","f":800,"db":58.6},{"s":"40 mph","f":1000,"db":59.4},{"s":"40 mph","f":1250,"db":59.5},{"s":"40 mph","f":1600,"db":59.1},{"s":"40 mph","f":2000,"db":57.9},{"s":"40 mph","f":2500,"db":56},{"s":"40 mph","f":3150,"db":53.6},{"s":"40 mph","f":4000,"db":50.3},{"s":"40 mph","f":5000,"db":46.9},{"s":"40 mph","f":6300,"db":43.2},{"s":"40 mph","f":8000,"db":40.6},{"s":"40 mph","f":10000,"db":36.7},
{"s":"30 mph","f":50,"db":28.1},{"s":"30 mph","f":63,"db":35.6},{"s":"30 mph","f":80,"db":40.4},{"s":"30 mph","f":100,"db":42.9},{"s":"30 mph","f":125,"db":44},{"s":"30 mph","f":160,"db":44.8},{"s":"30 mph","f":200,"db":45.5},{"s":"30 mph","f":250,"db":46.5},{"s":"30 mph","f":315,"db":47.7},{"s":"30 mph","f":400,"db":49.6},{"s":"30 mph","f":500,"db":51.9},{"s":"30 mph","f":630,"db":54.1},{"s":"30 mph","f":800,"db":55.9},{"s":"30 mph","f":1000,"db":56.6},{"s":"30 mph","f":1250,"db":56.8},{"s":"30 mph","f":1600,"db":56.5},{"s":"30 mph","f":2000,"db":55.6},{"s":"30 mph","f":2500,"db":54.1},{"s":"30 mph","f":3150,"db":52.1},{"s":"30 mph","f":4000,"db":48.9},{"s":"30 mph","f":5000,"db":45.5},{"s":"30 mph","f":6300,"db":41.8},{"s":"30 mph","f":8000,"db":39.1},{"s":"30 mph","f":10000,"db":34.6},
{"s":"20 mph","f":50,"db":27.6},{"s":"20 mph","f":63,"db":34.5},{"s":"20 mph","f":80,"db":39.4},{"s":"20 mph","f":100,"db":42.3},{"s":"20 mph","f":125,"db":43.4},{"s":"20 mph","f":160,"db":44.1},{"s":"20 mph","f":200,"db":44.7},{"s":"20 mph","f":250,"db":45.2},{"s":"20 mph","f":315,"db":46},{"s":"20 mph","f":400,"db":47.5},{"s":"20 mph","f":500,"db":49.5},{"s":"20 mph","f":630,"db":51.7},{"s":"20 mph","f":800,"db":53.2},{"s":"20 mph","f":1000,"db":53.8},{"s":"20 mph","f":1250,"db":54},{"s":"20 mph","f":1600,"db":53.9},{"s":"20 mph","f":2000,"db":53.3},{"s":"20 mph","f":2500,"db":52.2},{"s":"20 mph","f":3150,"db":50.7},{"s":"20 mph","f":4000,"db":47.4},{"s":"20 mph","f":5000,"db":44.2},{"s":"20 mph","f":6300,"db":40.3},{"s":"20 mph","f":8000,"db":37.5},{"s":"20 mph","f":10000,"db":32.6},
{"s":"10 mph","f":50,"db":27},{"s":"10 mph","f":63,"db":33.4},{"s":"10 mph","f":80,"db":38.5},{"s":"10 mph","f":100,"db":41.7},{"s":"10 mph","f":125,"db":42.8},{"s":"10 mph","f":160,"db":43.5},{"s":"10 mph","f":200,"db":43.9},{"s":"10 mph","f":250,"db":43.9},{"s":"10 mph","f":315,"db":44.2},{"s":"10 mph","f":400,"db":45.4},{"s":"10 mph","f":500,"db":47.2},{"s":"10 mph","f":630,"db":49.2},{"s":"10 mph","f":800,"db":50.5},{"s":"10 mph","f":1000,"db":51},{"s":"10 mph","f":1250,"db":51.3},{"s":"10 mph","f":1600,"db":51.3},{"s":"10 mph","f":2000,"db":51},{"s":"10 mph","f":2500,"db":50.3},{"s":"10 mph","f":3150,"db":49.2},{"s":"10 mph","f":4000,"db":46},{"s":"10 mph","f":5000,"db":42.8},{"s":"10 mph","f":6300,"db":38.9},{"s":"10 mph","f":8000,"db":36},{"s":"10 mph","f":10000,"db":30.5}
]
},
"layer":[
{"data":{"name":"measured"},
 "mark":{"type":"point","shape":"circle","size":30,"color":"#999999","strokeWidth":0.8,"filled":false},
 "encoding":{
  "x":{"field":"f","type":"quantitative","scale":{"type":"log","domain":[41,10300],"nice":false},
   "axis":{"orient":"bottom","values":[100,1000,10000],"tickSize":-4,"labelPadding":9,"labelExpr":"datum.value == 100 ? '10²' : datum.value == 1000 ? '10³' : '10⁴'","title":"One-Third Octave Band Center Frequency, Hz","titlePadding":2}},
  "y":{"field":"db","type":"quantitative","scale":{"domain":[0,100],"nice":false,"zero":false},
   "axis":{"orient":"left","values":[0,10,20,30,40,50,60,70,80,90,100],"tickSize":-4,"labelPadding":6,"title":"A-weighted Sound Pressure Level, dB(A)","titlePadding":4}}
 }},
{"data":{"name":"predicted"},
 "mark":{"type":"line","color":"#ff0000","strokeWidth":0.7},
 "encoding":{
  "x":{"field":"f","type":"quantitative","axis":{"orient":"bottom","values":[50,60,70,80,90,200,300,400,500,600,700,800,900,2000,3000,4000,5000,6000,7000,8000,9000],"tickSize":-2,"labels":false,"title":null}},
  "y":{"field":"db","type":"quantitative","axis":{"orient":"right","values":[0,10,20,30,40,50,60,70,80,90,100],"tickSize":-4,"labels":false,"title":null}},
  "detail":{"field":"s"}
 }},
{"data":{"name":"predicted"},
 "mark":{"type":"point","size":30,"color":"#ff0000","strokeWidth":0.8,"filled":false},
 "encoding":{
  "x":{"field":"f","type":"quantitative","axis":{"orient":"top","values":[100,1000,10000],"tickSize":-4,"labels":false,"title":null}},
  "y":{"field":"db","type":"quantitative","axis":null},
  "shape":{"field":"s","type":"nominal","legend":null,"scale":{"domain":["80 mph","70 mph","60 mph","50 mph","40 mph","30 mph","20 mph","10 mph"],"range":["circle","triangle-down","M0,-1L0,1M-1,0L1,0M-0.7,-0.7L0.7,0.7M-0.7,0.7L0.7,-0.7","triangle-right","diamond","triangle-up","square","triangle-left"]}}
 }},
{"data":{"name":"predicted"},
 "mark":{"type":"point","size":36,"opacity":0,"strokeWidth":0.8,"filled":false},
 "encoding":{
  "x":{"field":"f","type":"quantitative","axis":{"orient":"top","values":[50,60,70,80,90,200,300,400,500,600,700,800,900,2000,3000,4000,5000,6000,7000,8000,9000],"tickSize":-2,"labels":false,"title":null}},
  "y":{"field":"db","type":"quantitative","axis":null},
  "color":{"field":"s","type":"nominal","scale":{"domain":["80 mph","70 mph","60 mph","50 mph","40 mph","30 mph","20 mph","10 mph","Measured: 45 to 65 mph"],"range":["#ff0000","#ff0000","#ff0000","#ff0000","#ff0000","#ff0000","#ff0000","#ff0000","#999999"]},
   "legend":{"title":null,"orient":"right","offset":9,"padding":2,"strokeColor":"#333","fillColor":"white","labelFontSize":8.6,"labelFont":"Liberation Sans","labelColor":"black","symbolOffset":13,"labelOffset":13,"rowPadding":1.85,"symbolStrokeWidth":0.8,"symbolOpacity":1,"symbolSize":36,"symbolFillColor":"transparent","labelLimit":200,"encode":{"symbols":{"update":{"opacity":{"value":1}}}}}},
  "shape":{"field":"s","type":"nominal","scale":{"domain":["80 mph","70 mph","60 mph","50 mph","40 mph","30 mph","20 mph","10 mph","Measured: 45 to 65 mph"],"range":["M-4.45,0L4.45,0M1,0A1,1,0,1,1,-1,0A1,1,0,1,1,1,0Z","M-4.45,0L4.45,0M0,0.866L-1,-0.866L1,-0.866Z","M-4.45,0L4.45,0M0,-1L0,1M-0.7,-0.7L0.7,0.7M-0.7,0.7L0.7,-0.7","M-4.45,0L4.45,0M0.866,0L-0.866,-1L-0.866,1Z","M-4.45,0L4.45,0M-1,0L0,-1L1,0L0,1Z","M-4.45,0L4.45,0M0,-0.866L-1,0.866L1,0.866Z","M-4.45,0L4.45,0M-1,-1L1,-1L1,1L-1,1Z","M-4.45,0L4.45,0M-0.866,0L0.866,-1L0.866,1Z","M1,0A1,1,0,1,1,-1,0A1,1,0,1,1,1,0Z"]},
   "legend":{"title":null,"orient":"right","offset":9,"padding":2,"strokeColor":"#333","fillColor":"white","labelFontSize":8.6,"labelFont":"Liberation Sans","labelColor":"black","symbolOffset":13,"labelOffset":13,"rowPadding":1.85,"symbolStrokeWidth":0.8,"symbolOpacity":1,"symbolSize":36,"symbolFillColor":"transparent","labelLimit":200,"encode":{"symbols":{"update":{"opacity":{"value":1}}}}}}
 }},
{"mark":{"type":"text","align":"left","baseline":"middle","fontSize":8.8,"color":"black"},
 "encoding":{"x":{"datum":1900,"type":"quantitative","axis":null},"y":{"datum":95,"type":"quantitative","axis":null},"text":{"value":"r² = 0.81"}}},
{"mark":{"type":"text","align":"left","baseline":"middle","fontSize":8.8,"color":"black"},
 "encoding":{"x":{"datum":1900,"type":"quantitative","axis":null},"y":{"datum":90,"type":"quantitative","axis":null},"text":{"value":"std dev = 4.35"}}}
],
"resolve":{"axis":{"x":"independent","y":"independent"},"scale":{"shape":"independent","color":"independent"},"legend":{"shape":"independent","color":"independent"}}
}
